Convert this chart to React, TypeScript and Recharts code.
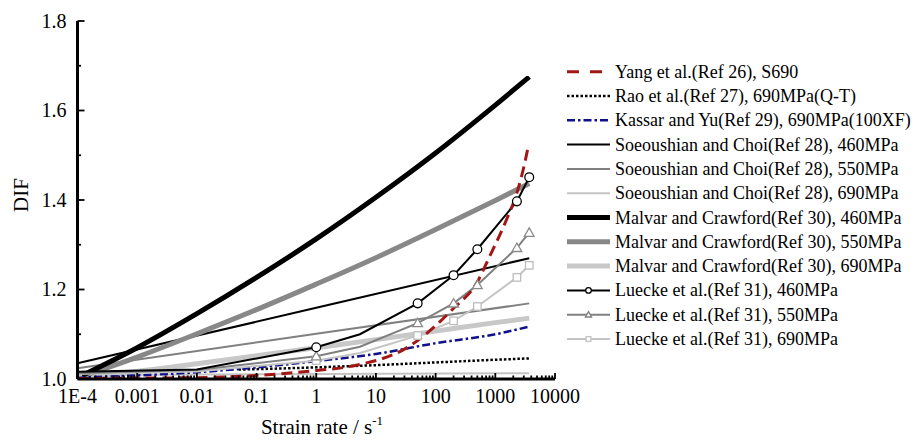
import React from 'react';
import { LineChart, Line, XAxis, YAxis, Legend } from 'recharts';

const FONT = "'Liberation Serif', 'Times New Roman', 'DejaVu Serif', serif";
const fontStyle = { fontFamily: FONT };

// ---- axis ticks ----
const xMajorTicks = [1e-4, 1e-3, 1e-2, 1e-1, 1, 10, 100, 1000, 10000];
const xTickLabels = ['1E-4', '0.001', '0.01', '0.1', '1', '10', '100', '1000', '10000'];
const yTicks = [1.0, 1.1, 1.2, 1.3, 1.4, 1.5, 1.6, 1.7, 1.8];
const yTickLabels = ['1.0', '', '1.2', '', '1.4', '', '1.6', '', '1.8'];

// ---- series (strain rate in 1/s, DIF) ----
const yangRate = [1e-4, 1e-3, 0.01, 0.1, 0.5, 1, 4, 37, 200, 490, 810, 1550, 2300, 3200, 3500];
const yangDIF = [1.001, 1.002, 1.003, 1.008, 1.015, 1.019, 1.029, 1.074, 1.158, 1.215, 1.275, 1.357, 1.416, 1.49, 1.515];

const raoRate = [0.05, 1, 10, 100, 1000, 3700];
const raoDIF = [1.021, 1.026, 1.031, 1.037, 1.043, 1.046];

const kassarRate = [1e-4, 1e-3, 0.01, 0.1, 1, 10, 100, 1000, 3700];
const kassarDIF = [1.003, 1.008, 1.015, 1.026, 1.04, 1.056, 1.08, 1.1, 1.117];

const soe460Rate = [1e-4, 1, 3700];
const soe460DIF = [1.035, 1.159, 1.27];
const soe550Rate = [1e-4, 1, 3700];
const soe550DIF = [1.024, 1.101, 1.169];
const soe690Rate = [1e-4, 1, 3700];
const soe690DIF = [1.009, 1.011, 1.013];

const malvarRate = [1.2e-4, 1e-3, 0.01, 0.1, 1, 10, 100, 1000, 3700];
const malvar460DIF = [1.008, 1.07, 1.146, 1.227, 1.313, 1.406, 1.505, 1.612, 1.675];
const malvar550DIF = [1.006, 1.049, 1.101, 1.155, 1.212, 1.271, 1.334, 1.399, 1.437];
const malvar690DIF = [1.005, 1.017, 1.034, 1.052, 1.07, 1.088, 1.107, 1.126, 1.136];

const lueckeRate = [1e-4, 0.01, 1, 5.4, 50, 200, 500, 2300, 3700];
const luecke460DIF = [1.016, 1.021, 1.071, 1.1, 1.169, 1.232, 1.29, 1.397, 1.451];
const luecke550DIF = [1.013, 1.02, 1.051, 1.072, 1.125, 1.169, 1.21, 1.293, 1.327];
const luecke690DIF = [1.011, 1.017, 1.041, 1.058, 1.097, 1.13, 1.162, 1.227, 1.254];
const lueckeMarkerRates = [1, 50, 200, 500, 2300, 3700];

const legendNames = [
  'Yang et al.(Ref 26), S690',
  'Rao et al.(Ref 27), 690MPa(Q-T)',
  'Kassar and Yu(Ref 29), 690MPa(100XF)',
  'Soeoushian and Choi(Ref 28), 460MPa',
  'Soeoushian and Choi(Ref 28), 550MPa',
  'Soeoushian and Choi(Ref 28), 690MPa',
  'Malvar and Crawford(Ref 30), 460MPa',
  'Malvar and Crawford(Ref 30), 550MPa',
  'Malvar and Crawford(Ref 30), 690MPa',
  'Luecke et al.(Ref 31), 460MPa',
  'Luecke et al.(Ref 31), 550MPa',
  'Luecke et al.(Ref 31), 690MPa',
];

const build = (rates: number[], vals: number[]) => rates.map((r, i) => ({ rate: r, dif: vals[i] }));

type Marker = 'none' | 'circle' | 'triangle' | 'square';
type Style = { color: string; width: number; dash?: string; marker: Marker; legendDash?: string; curve: 'monotone' | 'linear' };

const styles: Style[] = [
  { color: '#A31616', width: 3, dash: '11 6', legendDash: '12 11', marker: 'none', curve: 'monotone' },
  { color: '#000000', width: 2.5, dash: '2.5 2', legendDash: '2.5 2', marker: 'none', curve: 'monotone' },
  { color: '#10108C', width: 2.5, dash: '8 3 2.5 3', legendDash: '8 3 2.5 3', marker: 'none', curve: 'monotone' },
  { color: '#000000', width: 2, marker: 'none', curve: 'linear' },
  { color: '#808080', width: 2, marker: 'none', curve: 'linear' },
  { color: '#C4C4C4', width: 2, marker: 'none', curve: 'linear' },
  { color: '#000000', width: 5, marker: 'none', curve: 'monotone' },
  { color: '#888888', width: 5, marker: 'none', curve: 'monotone' },
  { color: '#C8C8C8', width: 5, marker: 'none', curve: 'monotone' },
  { color: '#000000', width: 2, marker: 'circle', curve: 'linear' },
  { color: '#808080', width: 2, marker: 'triangle', curve: 'linear' },
  { color: '#C4C4C4', width: 2, marker: 'square', curve: 'linear' },
];

const seriesData = [
  build(yangRate, yangDIF),
  build(raoRate, raoDIF),
  build(kassarRate, kassarDIF),
  build(soe460Rate, soe460DIF),
  build(soe550Rate, soe550DIF),
  build(soe690Rate, soe690DIF),
  build(malvarRate, malvar460DIF),
  build(malvarRate, malvar550DIF),
  build(malvarRate, malvar690DIF),
  build(lueckeRate, luecke460DIF),
  build(lueckeRate, luecke550DIF),
  build(lueckeRate, luecke690DIF),
];

const drawOrder = [5, 4, 3, 8, 7, 6, 1, 2, 11, 10, 9, 0];

const markerShape = (m: Marker, cx: number, cy: number, color: string, size: number, key?: string) => {
  if (m === 'circle') return <circle key={key} cx={cx} cy={cy} r={size} fill="#fff" stroke={color} strokeWidth={1.3} />;
  if (m === 'triangle') {
    const h = size * 1.1;
    return (
      <polygon key={key} points={`${cx},${cy - h} ${cx - h},${cy + h * 0.75} ${cx + h},${cy + h * 0.75}`} fill="#fff" stroke={color} strokeWidth={1.3} />
    );
  }
  if (m === 'square') {
    const s = size * 0.85;
    return <rect key={key} x={cx - s} y={cy - s} width={2 * s} height={2 * s} fill="#fff" stroke={color} strokeWidth={1.3} />;
  }
  return <g key={key} />;
};

const makeDot = (st: Style, idx: number) => (props: any) => {
  const { cx, cy, payload, index } = props;
  const key = `dot-${idx}-${index}`;
  if (st.marker === 'none' || !lueckeMarkerRates.includes(payload.rate)) return <g key={key} />;
  const mc = st.marker === 'triangle' ? '#8a8a8a' : st.marker === 'square' ? '#bdbdbd' : '#000';
  return markerShape(st.marker, cx, cy, mc, 4.4, key);
};

const isMajor = (v: number) => xMajorTicks.findIndex((t) => Math.abs(Math.log10(t) - Math.log10(v)) < 1e-6);

const xTicksAll: number[] = [];
xMajorTicks.forEach((t, i) => {
  xTicksAll.push(t);
  if (i < xMajorTicks.length - 1) for (let k = 2; k <= 9; k++) xTicksAll.push(t * k);
});

const XTick = (props: any) => {
  const { x, y, payload } = props;
  const idx = isMajor(payload.value);
  const major = idx >= 0;
  return (
    <g>
      <line x1={x} x2={x} y1={y} y2={y - (major ? 6 : 3.5)} stroke="#000" strokeWidth={1.8} />
      {major && (
        <text x={x} y={y + 24} textAnchor="middle" style={fontStyle} fontSize={20} fill="#000">
          {xTickLabels[idx]}
        </text>
      )}
    </g>
  );
};

const YTick = (props: any) => {
  const { x, y, payload } = props;
  const idx = yTicks.findIndex((t) => Math.abs(t - payload.value) < 1e-6);
  const label = idx >= 0 ? yTickLabels[idx] : '';
  const major = label !== '';
  return (
    <g>
      <line x1={x} x2={x + (major ? 7 : 3.5)} y1={y} y2={y} stroke="#000" strokeWidth={1.8} />
      {major && (
        <text x={x - 11} y={y + 6.5} textAnchor="end" style={fontStyle} fontSize={20} fill="#000">
          {label}
        </text>
      )}
    </g>
  );
};

const renderLegend = () => {
  const x0 = 7;
  const x1 = 50;
  return (
    <svg width={360} height={300} style={{ display: 'block' }}>
      {styles.map((st, i) => {
        const cy = 16.7 + i * 24.3;
        const lx1 = i === 0 ? 42 : x1;
        return (
          <g key={i}>
            <line x1={x0} x2={lx1} y1={cy} y2={cy} stroke={st.color} strokeWidth={st.width} strokeDasharray={st.legendDash} />
            {st.marker !== 'none' &&
              markerShape(st.marker, (x0 + x1) / 2, cy, st.marker === 'circle' ? '#000' : st.color, 2.8)}
            <text x={55} y={cy + 6} style={fontStyle} fontSize={18} fill="#000">
              {legendNames[i]}
            </text>
          </g>
        );
      })}
    </svg>
  );
};

export default function App() {
  return (
    <div style={{ position: 'absolute', left: 0, top: 0, width: 920, height: 441, background: '#fff', fontFamily: FONT }}>
      <LineChart width={920} height={441} margin={{ top: 21, right: 365, bottom: 32, left: 17.5 }} style={fontStyle}>
        <XAxis
          dataKey="rate"
          type="number"
          scale="log"
          domain={[1e-4, 1e4]}
          allowDataOverflow
          ticks={xTicksAll}
          interval={0}
          tick={<XTick />}
          tickLine={false}
          tickSize={0}
          tickMargin={0}
          height={30}
          axisLine={{ stroke: '#000', strokeWidth: 3 }}
        />
        <YAxis
          type="number"
          domain={[1.0, 1.8]}
          allowDataOverflow
          ticks={yTicks}
          interval={0}
          tick={<YTick />}
          tickLine={false}
          tickSize={0}
          tickMargin={0}
          width={60}
          axisLine={{ stroke: '#000', strokeWidth: 3 }}
        />
        {drawOrder.map((i) => {
          const st = styles[i];
          return (
            <Line
              key={i}
              data={seriesData[i]}
              dataKey="dif"
              name={legendNames[i]}
              type={st.curve}
              stroke={st.color}
              strokeWidth={st.width}
              strokeDasharray={st.dash}
              dot={st.marker === 'none' ? false : makeDot(st, i)}
              activeDot={false}
              isAnimationActive={false}
            />
          );
        })}
        <Legend
          layout="vertical"
          align="center"
          verticalAlign="middle"
          content={renderLegend}
          wrapperStyle={{ position: 'absolute', left: 560, top: 55, width: 360, height: 300 }}
        />
      </LineChart>
      <svg width={920} height={441} style={{ position: 'absolute', left: 0, top: 0, pointerEvents: 'none' }}>
        <text x={21} y={195} transform="rotate(-90 21 195)" textAnchor="middle" dominantBaseline="central" style={fontStyle} fontSize={21} fill="#000">
          DIF
        </text>
        <text x={322} y={434} textAnchor="middle" style={fontStyle} fontSize={21} fill="#000">
          <tspan>Strain rate / s</tspan>
          <tspan dy={-9} fontSize={13}>-1</tspan>
        </text>
      </svg>
    </div>
  );
}
